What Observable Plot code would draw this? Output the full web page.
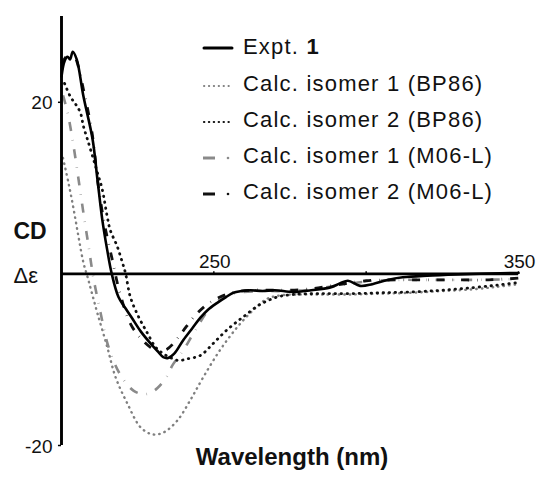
<!DOCTYPE html>
<html>
<head>
<meta charset="utf-8">
<script src="https://cdn.jsdelivr.net/npm/d3@7"></script>
<script src="https://cdn.jsdelivr.net/npm/@observablehq/plot@0.6"></script>
<style>
  html, body { margin: 0; padding: 0; background: #fff; }
  #wrap { position: relative; width: 537px; height: 478px; font-family: "Liberation Sans", Arial, sans-serif; }
  #legend { position: absolute; left: 0; top: 0; pointer-events: none; }
</style>
</head>
<body>
<div id="wrap"></div>
<script>
// ---- data ----
const exptNm = [200, 201, 202, 202.8, 203.7, 205, 207.2, 210.2, 211.8, 213.4, 215, 216.5, 218.7, 221, 223.6, 226, 229.2, 231.5, 233.4, 235, 237, 240, 243, 245.6, 248, 251, 254, 256.4, 259, 262, 266, 270, 276, 282, 288, 291.5, 294, 298, 302, 307, 312, 320, 330, 340, 350];
const exptCd = [23.0, 24.8, 25.3, 25.0, 25.9, 25.0, 20.7, 15.7, 11.0, 6.3, 2.8, 0, -2.7, -4.0, -5.4, -6.7, -8.1, -9.0, -9.7, -9.8, -9.3, -7.7, -6.3, -5.1, -4.2, -3.4, -2.7, -2.2, -2.0, -1.9, -2.0, -1.9, -2.1, -1.9, -1.6, -1.1, -0.8, -1.4, -1.2, -0.7, -0.4, -0.2, -0.05, 0.05, 0.1];

const iso1BpNm = [200.5, 202.3, 204, 205.6, 207.2, 208.5, 209.8, 211.8, 215, 217.7, 221.6, 226, 229.8, 233.4, 238, 242.3, 246.6, 252, 257.7, 263, 267.5, 272, 278, 285, 295, 305, 315, 325, 335, 343, 350];
const iso1BpCd = [13.5, 10.6, 7.5, 4.3, 1.3, -0.3, -2.0, -4.6, -8.5, -12.0, -15.1, -17.9, -18.7, -18.5, -17.1, -14.7, -12.0, -8.9, -6.2, -4.2, -2.9, -2.5, -2.4, -2.4, -2.4, -2.3, -2.2, -2.0, -1.8, -1.5, -1.2];

const iso2BpNm = [201, 203, 204.6, 206.2, 207.2, 208.5, 210.2, 211.8, 213.4, 215, 216, 218.3, 220, 221, 222.6, 225.3, 228.2, 230.8, 233.4, 236, 238.5, 241.3, 245.6, 249.8, 254.4, 259.7, 265, 270.8, 276, 285, 295, 305, 315, 325, 335, 343, 350];
const iso2BpCd = [22.2, 20.6, 19.8, 18.8, 17.2, 15.7, 13.7, 11.8, 9.8, 6.7, 5.1, 3.2, 1.3, 0.1, -2.7, -5.0, -6.9, -8.5, -9.3, -9.8, -10.1, -9.9, -9.5, -8.1, -6.5, -5.0, -3.6, -2.7, -2.4, -2.3, -2.3, -2.2, -2.1, -1.9, -1.6, -1.3, -1.0];

const iso1MoNm = [200.5, 202, 204, 205.6, 207.2, 208.9, 210.5, 212.8, 215, 217.5, 220.3, 223.6, 226.5, 229, 231.5, 234.5, 236.5, 240, 244, 249, 254, 258, 265, 272, 280, 290, 300, 310, 320, 335, 350];
const iso1MoCd = [20.8, 18.8, 14.8, 11.0, 7.1, 3.2, -0.5, -4.5, -8.0, -10.5, -12.3, -13.6, -14.0, -13.9, -13.3, -12.0, -10.6, -8.9, -6.5, -3.9, -2.6, -2.2, -2.0, -2.0, -1.9, -1.4, -0.9, -0.7, -0.7, -0.7, -0.6];

const iso2MoNm = [200, 202, 203.7, 205, 207.2, 210, 212, 214, 216.7, 219, 222.6, 226, 229, 232, 234.5, 237, 240, 244, 248, 252, 256, 262, 270, 280, 290, 300, 310, 320, 330, 340, 350];
const iso2MoCd = [24.5, 25.5, 25.8, 24.8, 21.5, 16.5, 10.5, 6.0, 1.6, -2.0, -5.8, -7.5, -8.5, -9.0, -8.8, -8.0, -6.6, -4.8, -3.5, -2.7, -2.2, -1.9, -1.9, -1.8, -1.3, -0.8, -0.7, -0.7, -0.7, -0.7, -0.5];

const xTicks = [250, 300, 350];
const xTickLabels = ["250", "350"];
const yTicks = [20, -20];
const seriesNames = ["Expt. 1", "Calc. isomer 1 (BP86)", "Calc. isomer 2 (BP86)", "Calc. isomer 1 (M06-L)", "Calc. isomer 2 (M06-L)"];

// ---- build tables ----
const toRows = (nm, cd) => nm.map((x, i) => ({x, y: cd[i]}));
const expt = toRows(exptNm, exptCd);
const iso1Bp = toRows(iso1BpNm, iso1BpCd);
const iso2Bp = toRows(iso2BpNm, iso2BpCd);
const iso1Mo = toRows(iso1MoNm, iso1MoCd);
const iso2Mo = toRows(iso2MoNm, iso2MoCd);

const styles = [
  {stroke: "#000", strokeWidth: 2.6, strokeDasharray: null, strokeLinecap: "round"},
  {stroke: "#808080", strokeWidth: 2.4, strokeDasharray: "0.5 5", strokeLinecap: "round"},
  {stroke: "#111", strokeWidth: 2.8, strokeDasharray: "0.5 5.5", strokeLinecap: "round"},
  {stroke: "#8a8a8a", strokeWidth: 2.6, strokeDasharray: "9 9 0.5 9", strokeLinecap: "butt"},
  {stroke: "#111", strokeWidth: 2.8, strokeDasharray: "8 8 0.5 8", strokeLinecap: "butt"}
];

const lineOpts = (s) => ({x: "x", y: "y", curve: "catmull-rom", stroke: s.stroke, strokeWidth: s.strokeWidth, strokeDasharray: s.strokeDasharray, strokeLinecap: s.strokeLinecap});

const chart = Plot.plot({
  width: 537,
  height: 478,
  marginLeft: 61,
  marginRight: 19,
  marginTop: 16,
  marginBottom: 33,
  style: {fontFamily: "'Liberation Sans', Arial, sans-serif", background: "#fff", overflow: "visible"},
  x: {domain: [200, 350], axis: null},
  y: {domain: [-20, 30], axis: null},
  marks: [
    Plot.line(iso1Bp, lineOpts(styles[1])),
    Plot.line(iso1Mo, lineOpts(styles[3])),
    Plot.line(iso2Bp, lineOpts(styles[2])),
    Plot.line(iso2Mo, lineOpts(styles[4])),
    Plot.line(expt, lineOpts(styles[0])),
    // axes
    Plot.ruleY([0], {x1: 200, x2: 350, stroke: "#000", strokeWidth: 2.7}),
    Plot.ruleX([200], {y1: -20, y2: 30, stroke: "#000", strokeWidth: 2.9}),
    Plot.ruleX(xTicks, {y1: 0, y2: 0.25, stroke: "#000", strokeWidth: 1.5}),
    Plot.ruleY(yTicks, {x1: 199, x2: 200, stroke: "#000", strokeWidth: 1.5}),
    Plot.text(yTicks, {x: 200, y: d => d, text: d => String(d), textAnchor: "end", dx: -9, dy: 1, fontSize: 19, fill: "#111"}),
    Plot.text(xTickLabels, {x: d => +d, y: 0, text: d => d, textAnchor: "middle", dx: 1, dy: -12, fontSize: 19, fill: "#111"}),
    Plot.text(["CD"], {frameAnchor: "left", text: d => d, textAnchor: "start", dx: -48, dy: 1, fontSize: 23, fontWeight: "bold", fill: "#111"}),
    Plot.text(["Δε"], {x: 200, y: 0, text: d => d, textAnchor: "start", dx: -48, dy: 2, fontSize: 22, fill: "#111"}),
    Plot.text(["Wavelength (nm)"], {frameAnchor: "bottom", text: d => d, textAnchor: "middle", dx: 2, dy: 19, fontSize: 24, fontWeight: "bold", fill: "#111", letterSpacing: "0.9px"})
  ]
});

const wrap = document.getElementById("wrap");
wrap.appendChild(chart);

// ---- legend (overlay, layout only) ----
const rowY = [45.5, 82.5, 118.5, 154.5, 190.5];
const leg = d3.select(wrap).append("svg").attr("id", "legend").attr("width", 537).attr("height", 478);
seriesNames.forEach((name, i) => {
  const s = styles[i];
  const y = rowY[i] + (i === 0 ? 2.5 : 3.5);
  if (i < 3) {
    leg.append("line").attr("x1", 204).attr("x2", 232).attr("y1", y).attr("y2", y)
      .attr("stroke", s.stroke).attr("stroke-width", i === 0 ? 3 : (i === 1 ? 2 : 2.2))
      .attr("stroke-linecap", "round").attr("stroke-dasharray", i === 0 ? null : "0.3 4.6");
  } else {
    leg.append("line").attr("x1", 203).attr("x2", 215).attr("y1", y).attr("y2", y)
      .attr("stroke", s.stroke).attr("stroke-width", 3);
    leg.append("circle").attr("cx", 228).attr("cy", y).attr("r", 1.3).attr("fill", s.stroke);
  }
  const t = leg.append("text").attr("x", 243).attr("y", rowY[i] + 8)
    .attr("font-family", "'Liberation Sans', Arial, sans-serif").attr("font-size", 22)
    .attr("letter-spacing", "1.2px").attr("fill", "#111");
  if (i === 0) {
    t.append("tspan").text("Expt. ");
    t.append("tspan").attr("font-weight", "bold").text("1");
  } else {
    t.text(name);
  }
});
</script>
</body>
</html>
